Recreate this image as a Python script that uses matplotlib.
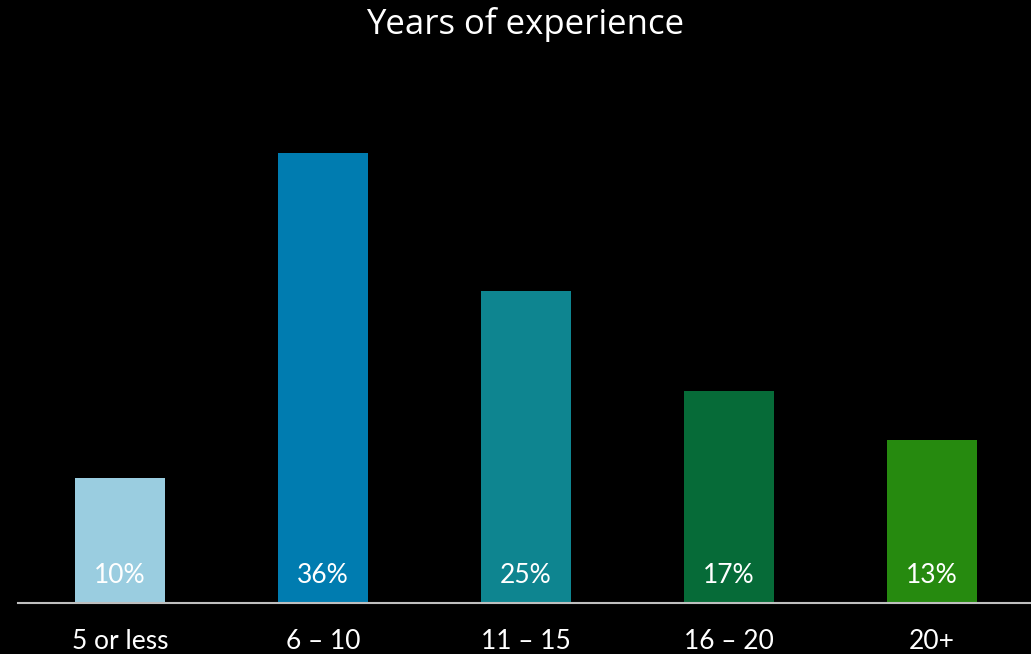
import matplotlib.pyplot as plt

categories = ["5 or less", "6 \u2013 10", "11 \u2013 15", "16 \u2013 20", "20+"]
shares = [10, 36, 25, 17, 13]
bar_colors = ["#9ACDE0", "#007CB0", "#0E8590", "#066B38", "#268A0F"]

fig = plt.figure(figsize=(10.31, 6.54), dpi=100, facecolor="black")
ax = fig.add_axes([18 / 1031, 51.3 / 654, 1 - 18 / 1031, 1 - 51.3 / 654])
ax.set_facecolor("black")

x = range(len(categories))
bars = ax.bar(x, shares, width=0.443, color=bar_colors)

ax.set_xlim(-0.502, 4.488)
ax.set_ylim(0, 48.3)

for spine in ["top", "right", "left"]:
    ax.spines[spine].set_visible(False)
ax.spines["bottom"].set_color("#BFBFBF")
ax.spines["bottom"].set_linewidth(1.5)
ax.set_yticks([])

ax.set_xticks(list(x))
ax.set_xticklabels(categories, color="white", fontsize=19, family="Lato")
ax.tick_params(axis="x", length=0, pad=19)

# value labels sit near the base of each bar
for b, v in zip(bars, shares):
    ax.text(b.get_x() + b.get_width() / 2, 2.2, f"{v}%", ha="center", va="center",
            color="white", fontsize=19, family="Lato")

fig.text(525 / 1031, 1 - 24 / 654, "Years of experience", ha="center", va="center",
         color="white", fontsize=25, family="Open Sans")

fig.savefig("out.png", dpi=100, facecolor="black")
